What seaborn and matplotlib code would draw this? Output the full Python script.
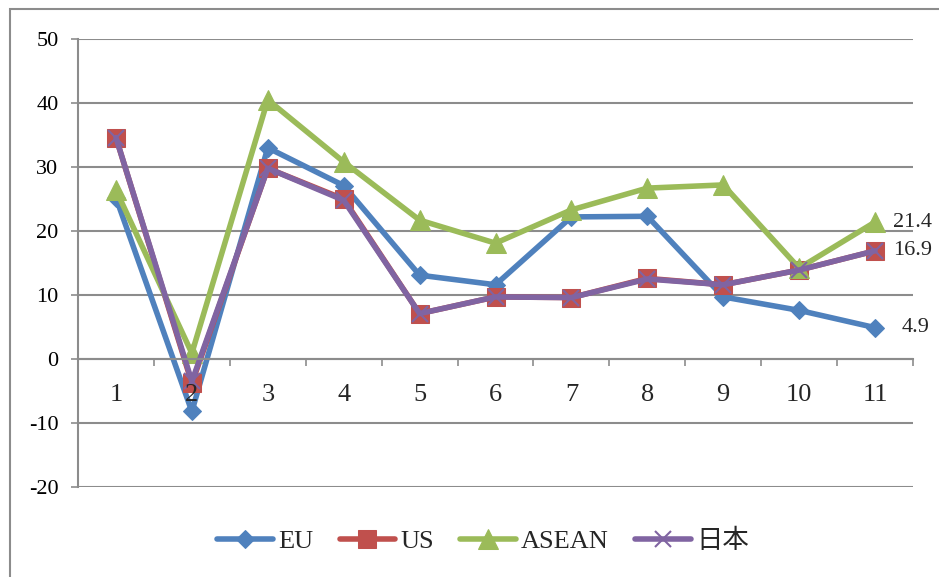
import matplotlib
matplotlib.use("Agg")
import matplotlib.pyplot as plt
import matplotlib.patches as mpatches
from matplotlib.ticker import FixedLocator
import seaborn as sns
import pandas as pd

# ---- data ----
months = [1, 2, 3, 4, 5, 6, 7, 8, 9, 10, 11]
eu = [25.2, -8.2, 33.0, 27.1, 13.1, 11.6, 22.2, 22.3, 9.7, 7.6, 4.9]
us = [34.6, -3.8, 29.8, 25.0, 7.1, 9.7, 9.6, 12.6, 11.6, 13.9, 16.9]
asean = [26.4, 0.9, 40.5, 30.8, 21.7, 18.1, 23.3, 26.7, 27.2, 14.2, 21.4]
japan = [34.6, -3.5, 29.8, 24.8, 7.1, 9.7, 9.6, 12.5, 11.6, 13.9, 16.9]
series_names = ["EU", "US", "ASEAN", "日本"]
end_labels = ["21.4", "16.9", "4.9"]
yticks = [-20, -10, 0, 10, 20, 30, 40, 50]

sns.set_theme(style="white")
plt.rcParams["font.family"] = ["Liberation Serif", "Noto Sans CJK JP"]

fig = plt.figure(figsize=(9.39, 5.77), dpi=100)
W, H = 939, 577
ax = fig.add_axes([78 / W, 1 - 487 / H, (913 - 78) / W, (487 - 39) / H])

grid_col = "#8c8c8c"

styles = [
    dict(color="#4F81BD", marker="D", markersize=9.5, markeredgecolor="#4F81BD"),
    dict(color="#C0504D", marker="s", markersize=12.5, markeredgecolor="#C0504D"),
    dict(color="#9BBB59", marker="^", markersize=14, markeredgecolor="#9BBB59"),
    dict(color="#8064A2", marker="x", markersize=11, markeredgewidth=1.5,
         markeredgecolor="#8064A2"),
]
data = [eu, us, asean, japan]
for name, vals, st in zip(series_names, data, styles):
    df = pd.DataFrame({"month": months, "value": vals})
    sns.lineplot(data=df, x="month", y="value", ax=ax, label=name,
                 linewidth=4, solid_capstyle="round", **st)

ax.set_xlim(0.5, 11.5)
ax.set_ylim(-20, 50)
ax.set_yticks(yticks)
ax.set_yticklabels([str(v) for v in yticks])
ax.set_xticks(months)
ax.set_xticklabels([])
ax.xaxis.set_minor_locator(FixedLocator([m + 0.5 for m in months]))
ax.set_xlabel("")
ax.set_ylabel("")

ax.yaxis.grid(True, color=grid_col, linewidth=1.5)
ax.xaxis.grid(False)
ax.set_axisbelow(True)

for s in ["top", "right"]:
    ax.spines[s].set_visible(False)
ax.spines["left"].set_color(grid_col)
ax.spines["left"].set_linewidth(1.5)
ax.spines["bottom"].set_color(grid_col)
ax.spines["bottom"].set_linewidth(1.5)
ax.spines["bottom"].set_position(("data", 0))

ax.tick_params(axis="y", which="major", left=True, length=5, width=1.2,
               color=grid_col, pad=9, labelsize=16, labelcolor="black")
ax.tick_params(axis="x", which="major", bottom=False, length=0)
ax.tick_params(axis="x", which="minor", bottom=True, length=5, width=1.2,
               color=grid_col)

# category labels drawn above the lines (as in the reference)
for m in months:
    ax.annotate(str(m), (m, 0), xytext=(0, -36), textcoords="offset pixels",
                ha="center", va="center", fontsize=19, zorder=10,
                annotation_clip=False)

# end labels
ax.annotate(end_labels[0], (months[-1], asean[-1]), xytext=(18, 0),
            textcoords="offset pixels", va="center", ha="left", fontsize=16)
ax.annotate(end_labels[1], (months[-1], us[-1]), xytext=(18, 0),
            textcoords="offset pixels", va="center", ha="left", fontsize=16)
ax.annotate(end_labels[2], (months[-1], eu[-1]), xytext=(27, 0),
            textcoords="offset pixels", va="center", ha="left", fontsize=16)

handles, labels = ax.get_legend_handles_labels()
if ax.get_legend() is not None:
    ax.get_legend().remove()
fig.legend(handles, labels, loc="center", bbox_to_anchor=(483 / W, 1 - 541 / H),
           ncol=4, frameon=False, fontsize=19, handlelength=2.1,
           handletextpad=0.2, columnspacing=1.0)

# outer chart border (partially cropped)
rect = mpatches.Rectangle((10 / W, -0.1), 2, 1 - 9 / H + 0.1,
                          transform=fig.transFigure, fill=False,
                          edgecolor=grid_col, linewidth=1.5)
fig.patches.append(rect)

fig.savefig("out.png", dpi=100)
